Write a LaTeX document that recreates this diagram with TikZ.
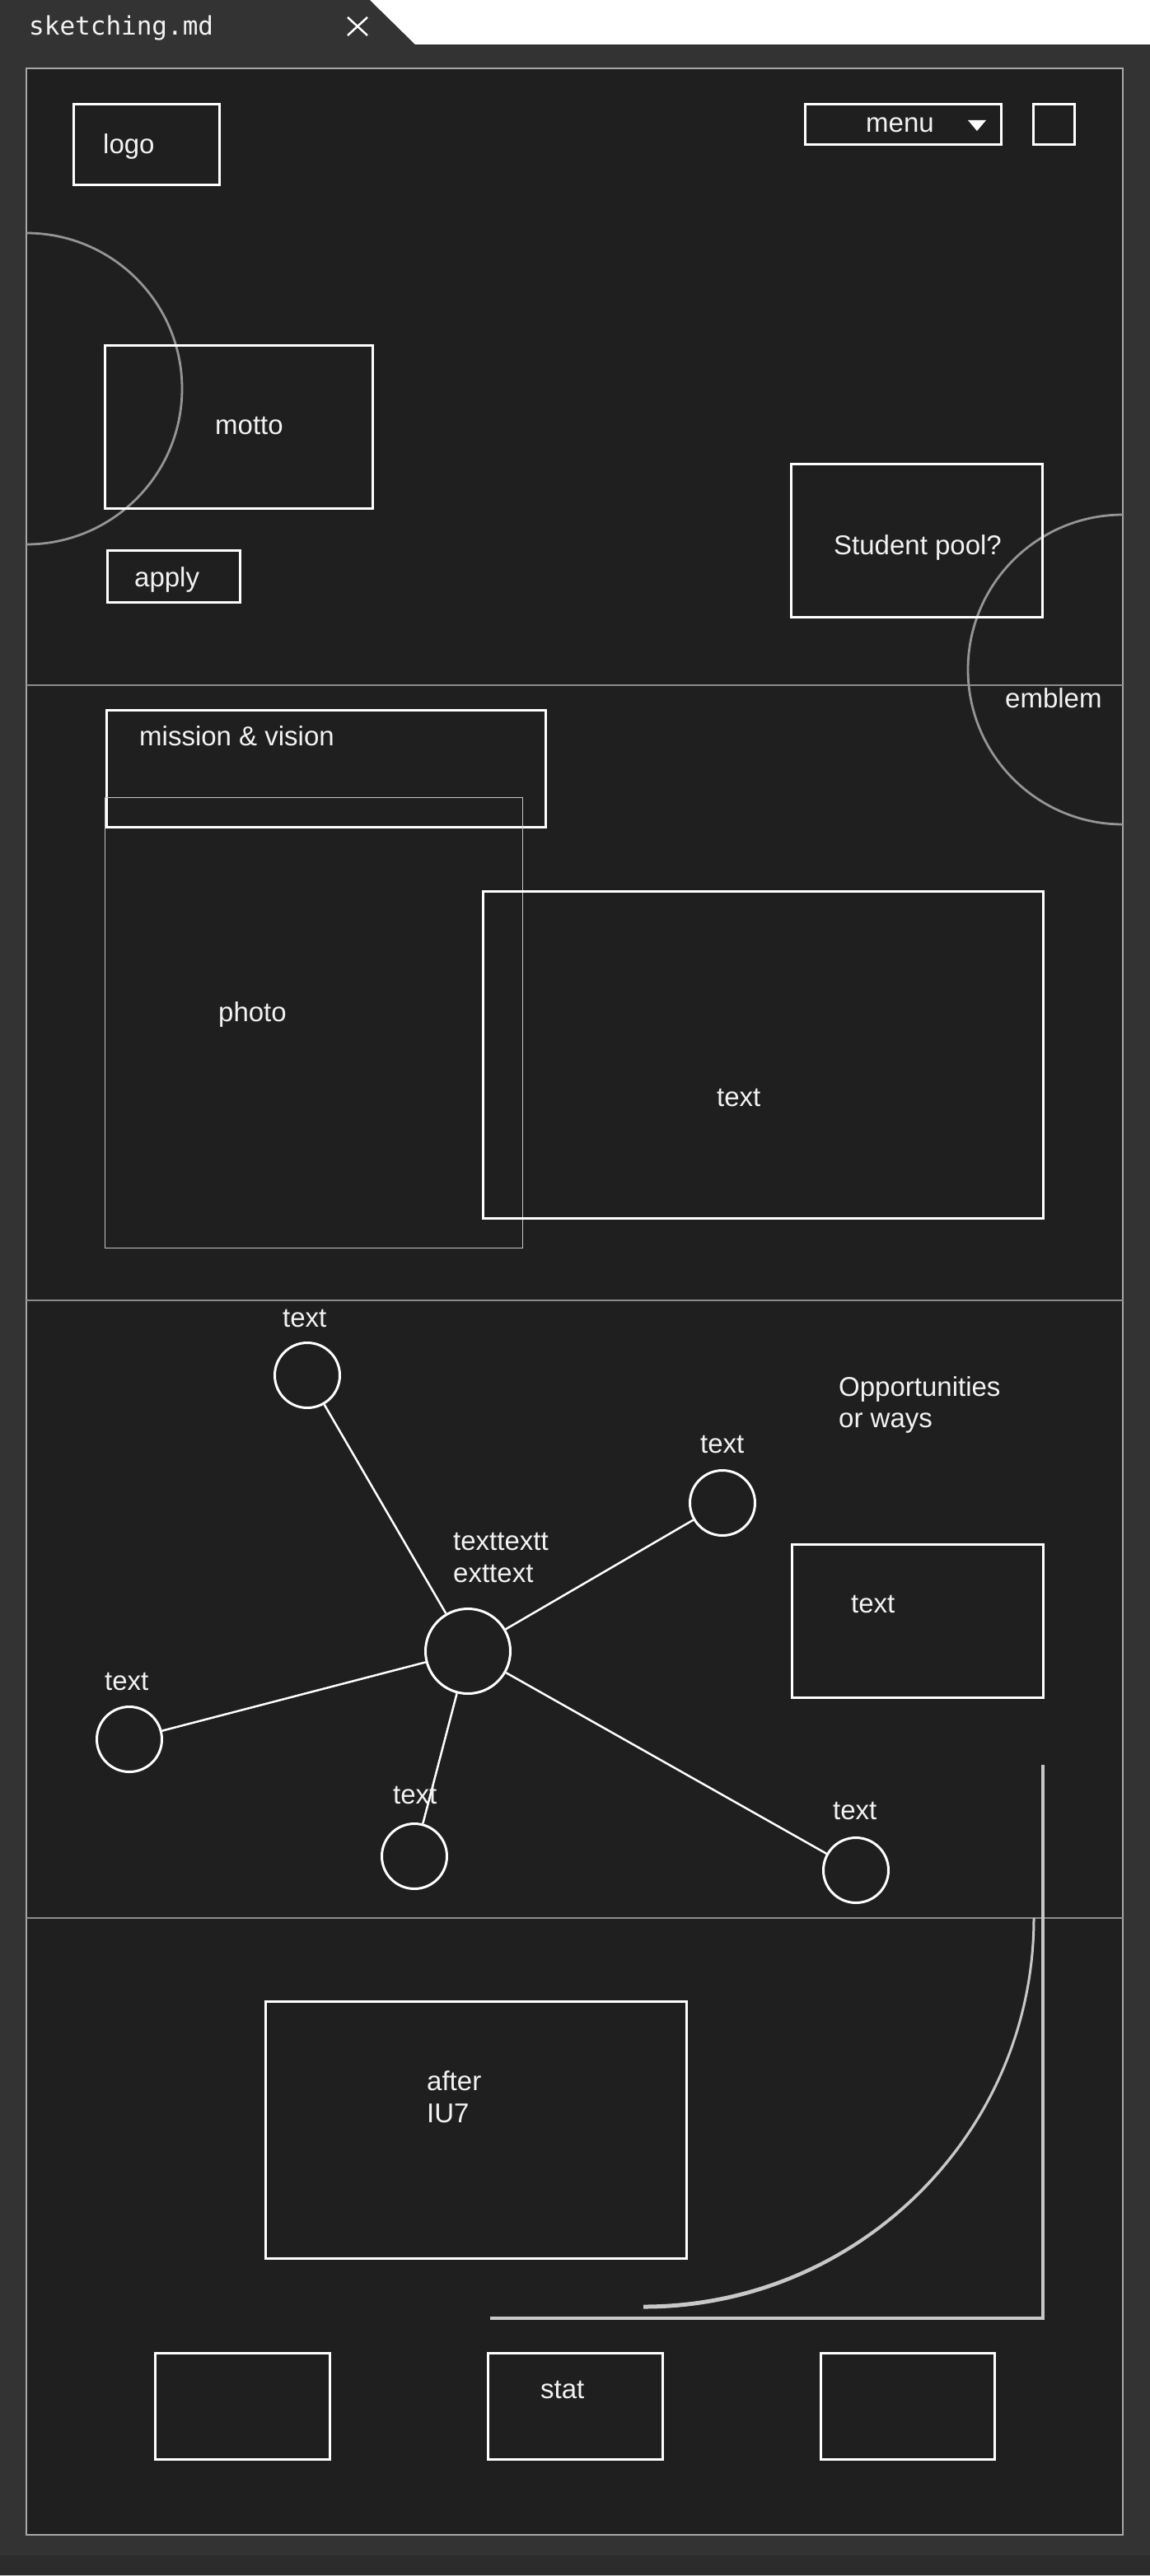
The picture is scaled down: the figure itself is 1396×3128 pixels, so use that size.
\documentclass[tikz,border=0pt]{standalone}
\usepackage{fontspec}
\setmainfont{Liberation Sans}
\newfontfamily\tabmono{DejaVu Sans Mono}
\definecolor{outerbg}{HTML}{333333}
\definecolor{framebg}{HTML}{1F1F1F}
\definecolor{framel}{HTML}{A8A8A8}
\definecolor{secline}{HTML}{8C8C8C}
\definecolor{ghostc}{HTML}{959595}
\definecolor{photoc}{HTML}{C4C4C4}
\definecolor{lgray}{HTML}{C8C8C8}
\definecolor{statusbg}{HTML}{2C2C2C}
\definecolor{txt}{HTML}{F2F2F2}
\begin{document}
\begin{tikzpicture}[x=1pt,y=-1pt,
  box/.style={draw=white, line width=3pt, rectangle, inner sep=0pt},
  thinbox/.style={draw=photoc, line width=1.3pt, rectangle, inner sep=0pt},
  lbl/.style={text=txt, font=\fontsize{33}{39}\selectfont, inner sep=0pt, anchor=base west},
  dot/.style={circle, draw=white, line width=3pt, minimum size=79pt, inner sep=0pt},
  hubst/.style={circle, draw=white, line width=3pt, minimum size=103pt, inner sep=0pt},
  conn/.style={draw=white, line width=2.5pt},
  sec/.style={draw=secline, line width=1.5pt},
  ghost/.style={draw=ghostc, line width=2.8pt}]
\useasboundingbox (0,0) rectangle (1396,3128);
% background
\fill[outerbg] (0,0) rectangle (1396,3128);
\fill[statusbg] (0,3103) rectangle (1396,3128);
\draw[lgray, line width=1pt] (0,3127.5) -- (1396,3127.5);
% tab
\fill[white] (449,0) -- (1396,0) -- (1396,54) -- (504,54) -- cycle;
\node[anchor=base west, inner sep=0pt, text=txt, font=\tabmono\fontsize{31}{36}\selectfont] (tabtitle) at (35,43) {sketching.md};
\coordinate (xa) at (422,21); \coordinate (xb) at (446,43);
\coordinate (xc) at (446,21); \coordinate (xd) at (422,43);
\draw[white, line width=2.5pt] (xa) -- (xb) (xc) -- (xd);
% frame
\fill[framebg] (32,83) rectangle (1363,3078);
\draw[framel, line width=1.5pt] (32,83) rectangle (1363,3078);
% section lines
\coordinate (s1l) at (32,832); \coordinate (s1r) at (1363,832);
\coordinate (s2l) at (32,1579); \coordinate (s2r) at (1363,1579);
\coordinate (s3l) at (32,2329); \coordinate (s3r) at (1363,2329);
\draw[sec] (s1l) -- (s1r);
\draw[sec] (s2l) -- (s2r);
\draw[sec] (s3l) -- (s3r);
% ghost circles
\begin{scope}
  \clip (32,83) rectangle (1363,3078);
  \draw[ghost] (32,472) circle[radius=189];
  \draw[ghost] (1363,813) circle[radius=188];
\end{scope}
% section 1
\node[box, minimum width=177pt, minimum height=98pt] (logobox) at (178,175.5) {};
\node[lbl] (logotext) at (125,187) {logo};
\node[box, minimum width=238pt, minimum height=49pt] (menubox) at (1096.5,151) {};
\node[lbl] (menutext) at (1051,161) {menu};
\fill[white] (1175,146) -- (1197,146) -- (1186,159) -- cycle;
\node[box, minimum width=50pt, minimum height=49pt] (sqbox) at (1279.5,151) {};
\node[box, minimum width=325pt, minimum height=198pt] (mottobox) at (290,518.5) {};
\node[lbl] (mottotext) at (261,527) {motto};
\node[box, minimum width=161pt, minimum height=63pt] (applybox) at (211,700) {};
\node[lbl] (applytext) at (163,712) {apply};
\node[box, minimum width=305pt, minimum height=186pt] (poolbox) at (1113,656.5) {};
\node[lbl] (pooltext) at (1012,673) {Student pool?};
\node[lbl] (emblemtext) at (1220,859) {emblem};
% section 2
\node[box, minimum width=533pt, minimum height=142pt] (missionbox) at (396,933.5) {};
\node[lbl] (missiontext) at (169,905) {mission \& vision};
\node[thinbox, minimum width=507pt, minimum height=547pt] (photobox) at (381,1242) {};
\node[lbl] (phototext) at (265,1240) {photo};
\node[box, minimum width=680pt, minimum height=397pt] (textbox) at (926.5,1281) {};
\node[lbl] (textboxtext) at (870,1343) {text};
% section 3
\node[hubst] (hub) at (568,2005) {};
\node[dot] (ctop) at (373,1670) {};
\node[dot] (cur) at (877,1825) {};
\node[dot] (cleft) at (157,2112) {};
\node[dot] (cbot) at (503,2254) {};
\node[dot] (cbr) at (1039,2271) {};
\draw[conn] (hub) -- (ctop);
\draw[conn] (hub) -- (cur);
\draw[conn] (hub) -- (cleft);
\draw[conn] (hub) -- (cbot);
\draw[conn] (hub) -- (cbr);
\node[lbl] (ltop) at (343,1611) {text};
\node[lbl] (lur) at (850,1764) {text};
\node[lbl] (hub1) at (550,1882) {texttextt};
\node[lbl] (hub2) at (550,1921) {exttext};
\node[lbl] (lleft) at (127,2052) {text};
\node[lbl] (lbot) at (477,2190) {text};
\node[lbl] (lbr) at (1011,2209) {text};
\node[lbl] (opp1) at (1018,1695) {Opportunities};
\node[lbl] (opp2) at (1018,1733) {or ways};
\node[box, minimum width=305pt, minimum height=186pt] (oppbox) at (1114,1968.5) {};
\node[lbl] (opptext) at (1033,1958) {text};
% section 4
\node[box, minimum width=511pt, minimum height=312pt] (afterbox) at (578,2586.5) {};
\node[lbl] (after1) at (518,2538) {after};
\node[lbl] (after2) at (518,2577) {IU7};
\fill[lgray] (1256.5,2329) .. controls (1256.5,2590) and (1043,2803.5) .. (781,2803.5)
  -- (781,2798.5) .. controls (1041,2798.5) and (1253.5,2589) .. (1253.5,2329) -- cycle;
\coordinate (la) at (1266,2143); \coordinate (lb) at (1266,2815); \coordinate (lc) at (595,2815);
\draw[lgray, line width=4pt] (la) -- (lb) -- (lc);
\node[box, minimum width=212pt, minimum height=129pt] (stat1) at (294.5,2922) {};
\node[box, minimum width=212pt, minimum height=129pt] (stat2) at (698.5,2922) {};
\node[box, minimum width=211pt, minimum height=129pt] (stat3) at (1102,2922) {};
\node[lbl] (stattext) at (656,2912) {stat};
\end{tikzpicture}
\end{document}
